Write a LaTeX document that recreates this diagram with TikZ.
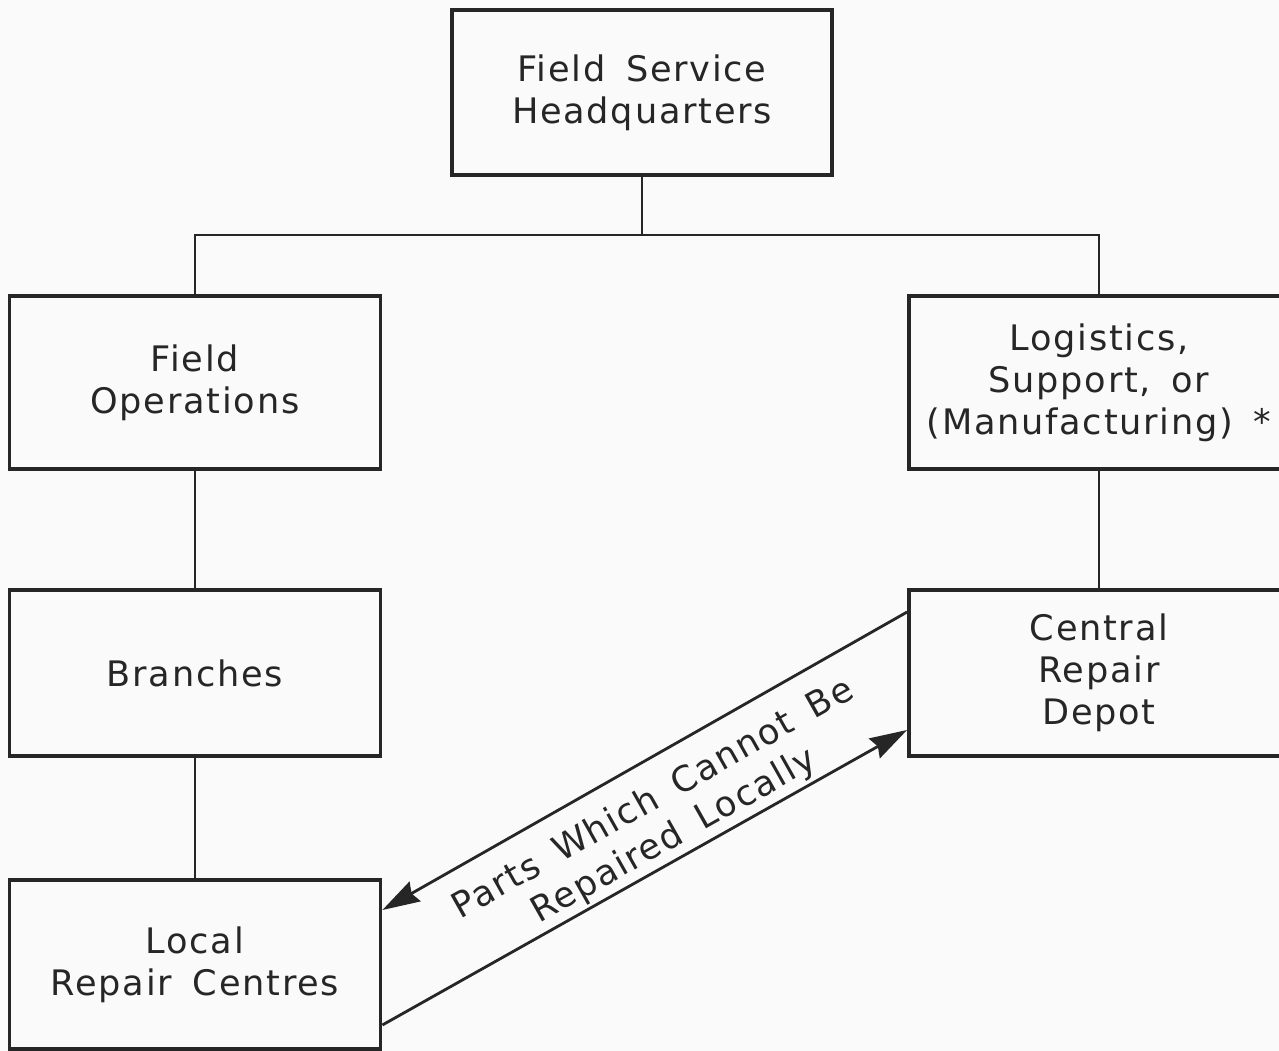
\documentclass[tikz,border=0pt]{standalone}
\usepackage{fontspec}
\setmainfont{DejaVu Sans}[LetterSpace=5,WordSpace=1.6]
\usetikzlibrary{arrows.meta}

\begin{document}
\begin{tikzpicture}[x=0.02cm,y=-0.02cm,
    unit/.style={draw=black!85,line width=2.2pt,align=center,text=black!85,
        font=\fontsize{20}{24}\selectfont},
    link/.style={draw=black!85,line width=1.1pt},
    flow/.style={draw=black!85,line width=1.6pt,-{Stealth[length=0.75cm,width=0.45cm,inset=0.08cm]}}]
    \fill[black!2] (0,0) rectangle (1279,1051);
    \useasboundingbox (0,0) rectangle (1279,1051);
    % boxes
    \node[unit,minimum width=7.6cm,minimum height=3.3cm] (hq) at (642,92.5) {Field Service\\Headquarters};
    \node[unit,minimum width=7.42cm,minimum height=3.46cm] (fieldops) at (195,382.5) {Field\\Operations};
    \node[unit,minimum width=7.6cm,minimum height=3.46cm] (logist) at (1099,382.5) {Logistics,\\Support, or\\(Manufacturing) *};
    \node[unit,minimum width=7.42cm,minimum height=3.32cm] (branches) at (195,673) {Branches};
    \node[unit,minimum width=7.6cm,minimum height=3.32cm] (depot) at (1099,673) {Central\\Repair\\Depot};
    \node[unit,minimum width=7.42cm,minimum height=3.38cm] (local) at (195,964.5) {Local\\Repair Centres};
    % tree
    \coordinate (bus) at (636,235);
    \draw[link] (hq) -- (hq |- bus);
    \draw[link] (fieldops) |- (bus) -| (logist);
    \draw[link] (fieldops) -- (branches);
    \draw[link] (branches) -- (local);
    \draw[link] (logist) -- (depot);
    % parts flow
    \draw[flow] ([yshift=1.22cm]depot.west) -- ([yshift=1.09cm]local.east);
    \draw[flow] ([yshift=-1.21cm]local.east) -- ([yshift=-1.14cm]depot.west);
    \node[rotate=29.4,align=center,text=black!85,font=\fontsize{20}{24}\selectfont] (note) at (664,818) {Parts Which Cannot Be\\Repaired Locally};
\end{tikzpicture}
\end{document}
